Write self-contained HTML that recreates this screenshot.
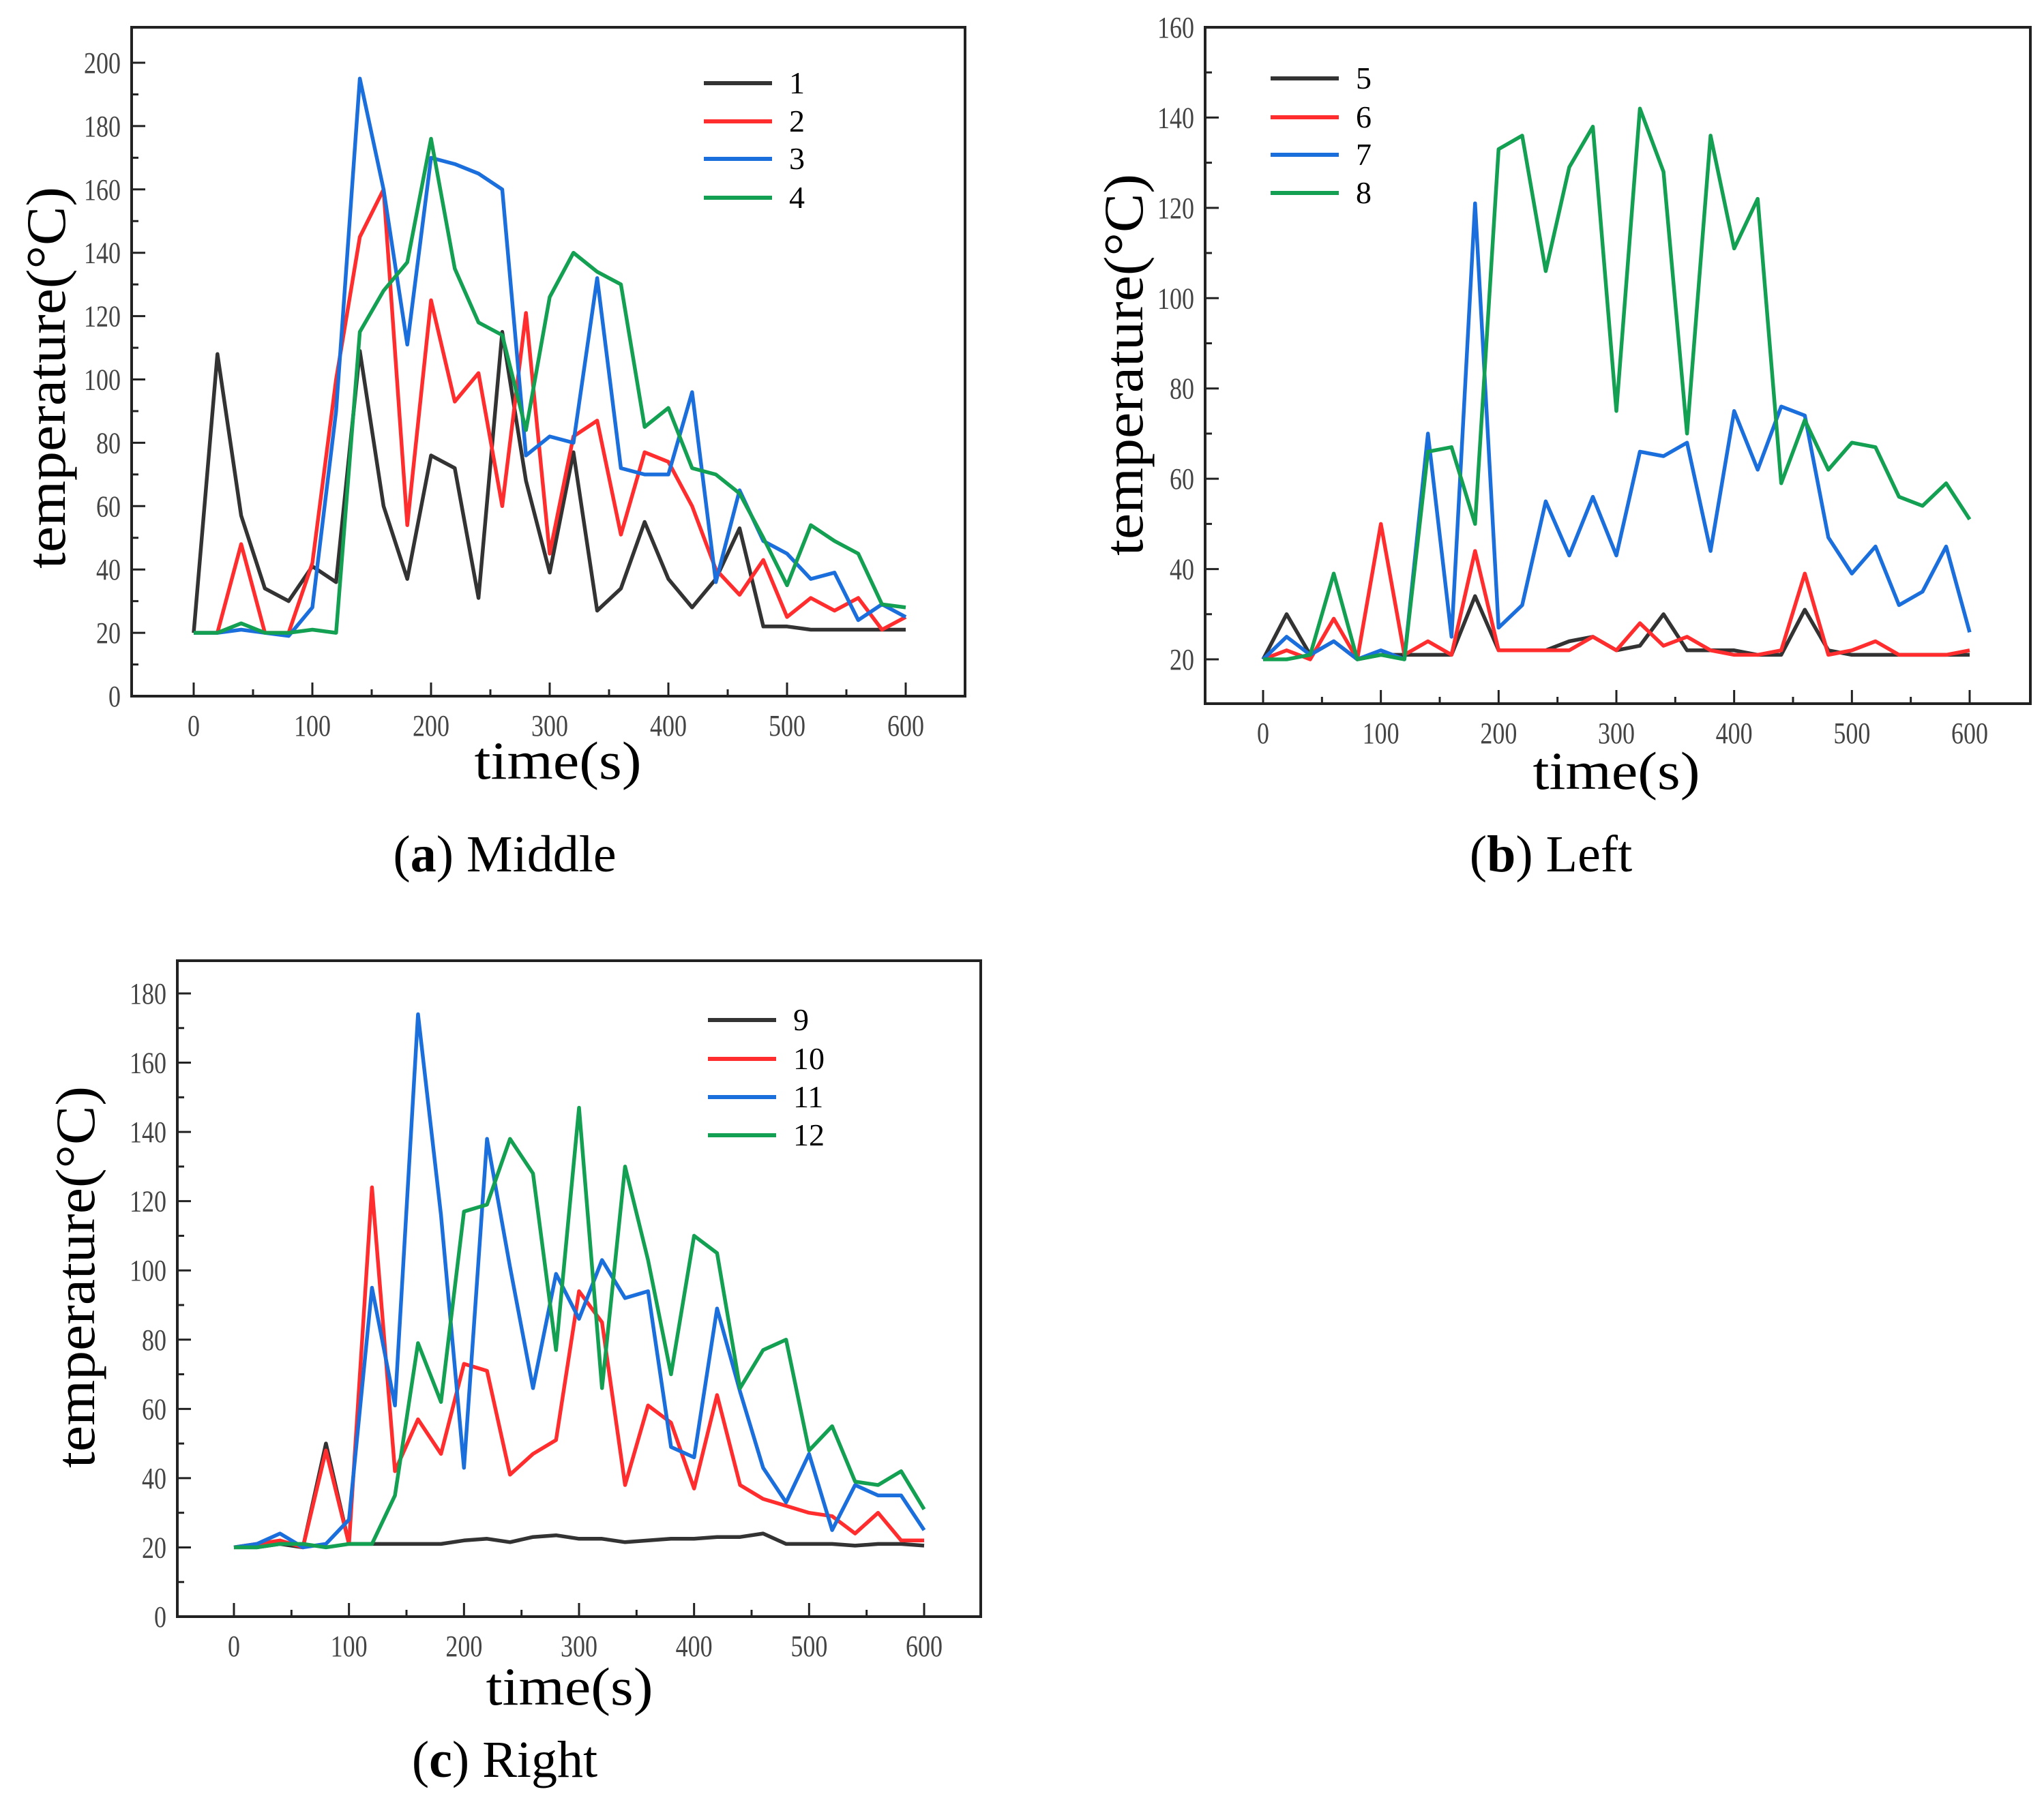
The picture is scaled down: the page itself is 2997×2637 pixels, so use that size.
<!DOCTYPE html>
<html><head><meta charset="utf-8"><style>
html,body{margin:0;padding:0;background:#fff;}
svg{display:block;}
.tick{font-family:"Liberation Serif",serif;font-size:44px;fill:#444;}
.lab{font-family:"Liberation Serif",serif;fill:#000;}
</style></head><body>
<svg id="fig" width="2997" height="2637" viewBox="0 0 2997 2637" xmlns="http://www.w3.org/2000/svg"></svg>
<script>
const xTimes=[0,20,40,60,80,100,120,140,160,180,200,220,240,260,280,300,320,340,360,380,400,420,440,460,480,500,520,540,560,580,600];
const xTickLabels=[0,100,200,300,400,500,600];
// Panel a (Middle)
const aNames=["1","2","3","4"];
const aS1=[20,108,57,34,30,41,36,109,60,37,76,72,31,115,68,39,77,27,34,55,37,28,37,53,22,22,21,21,21,21,21];
const aS2=[20,20,48,20,20,42,100,145,160,54,125,93,102,60,121,45,82,87,51,77,74,60,40,32,43,25,31,27,31,21,25];
const aS3=[20,20,21,20,19,28,90,195,160,111,170,168,165,160,76,82,80,132,72,70,70,96,36,65,49,45,37,39,24,29,25];
const aS4=[20,20,23,20,20,21,20,115,128,137,176,135,118,114,84,126,140,134,130,85,91,72,70,64,50,35,54,49,45,29,28];
const aYTicks=[0,20,40,60,80,100,120,140,160,180,200];
// Panel b (Left)
const bNames=["5","6","7","8"];
const bS5=[20,30,21,24,20,21,21,21,21,34,22,22,22,24,25,22,23,30,22,22,22,21,21,31,22,21,21,21,21,21,21];
const bS6=[20,22,20,29,20,50,21,24,21,44,22,22,22,22,25,22,28,23,25,22,21,21,22,39,21,22,24,21,21,21,22];
const bS7=[20,25,21,24,20,22,20,70,25,121,27,32,55,43,56,43,66,65,68,44,75,62,76,74,47,39,45,32,35,45,26];
const bS8=[20,20,21,39,20,21,20,66,67,50,133,136,106,129,138,75,142,128,70,136,111,122,59,73,62,68,67,56,54,59,51];
const bYTicks=[20,40,60,80,100,120,140,160];
// Panel c (Right)
const cNames=["9","10","11","12"];
const cS9=[20,20,21,20,50,21,21,21,21,21,22,22.5,21.5,23,23.5,22.5,22.5,21.5,22,22.5,22.5,23,23,24,21,21,21,20.5,21,21,20.5];
const cS10=[20,21,22,20,48,21,124,42,57,47,73,71,41,47,51,94,85,38,61,56,37,64,38,34,32,30,29,24,30,22,22];
const cS11=[20,21,24,20,21,28,95,61,174,116,43,138,101,66,99,86,103,92,94,49,46,89,65,43,33,47,25,38,35,35,25];
const cS12=[20,20,21,21,20,21,21,35,79,62,117,119,138,128,77,147,66,130,103,70,110,105,66,77,80,48,55,39,38,42,31];
const cYTicks=[0,20,40,60,80,100,120,140,160,180];

const colors=["#333333","#ff2d2d","#1b6fdc","#13a052"];
const NS="http://www.w3.org/2000/svg";
const svg=document.getElementById('fig');
function mk(tag,attrs,parent){const e=document.createElementNS(NS,tag);for(const k in attrs)e.setAttribute(k,attrs[k]);(parent||svg).appendChild(e);return e;}

function panel(cfg){
  const g=mk('g',{});
  
  
  const xs=v=>cfg.x0+(v-0)/(600)*(cfg.x600-cfg.x0);
  const ys=v=>cfg.yLoPx+(v-cfg.yLo)/(cfg.yHi-cfg.yLo)*(cfg.yHiPx-cfg.yLoPx);
  const frame=mk('rect',{x:cfg.L,y:cfg.T,width:cfg.R-cfg.L,height:cfg.B-cfg.T,fill:'none',stroke:'#222','stroke-width':4},g);
  
  
  for(let v=0;v<=600;v+=50){
    const major=v%100===0;const px=xs(v);
    const t=mk('line',{x1:px,x2:px,y1:cfg.B,y2:cfg.B-(major?20:10),stroke:'#222','stroke-width':3},g);
    
    
  }
  xTickLabels.forEach(v=>{
    const s=String(v);
    const t=mk('text',{x:xs(v),y:cfg.B+58,'text-anchor':'middle',class:'tick',textLength:s.length*18,lengthAdjust:'spacingAndGlyphs'},g);
    t.textContent=s;
    
    
  });
  const step=cfg.yTicks[1]-cfg.yTicks[0];
  for(let v=cfg.yTicks[0];v<=cfg.yTicks[cfg.yTicks.length-1]+0.001;v+=step/2){
    const major=Math.abs((v-cfg.yTicks[0])%step)<0.001;const py=ys(v);
    const t=mk('line',{x1:cfg.L,x2:cfg.L+(major?20:10),y1:py,y2:py,stroke:'#222','stroke-width':3},g);
    
    
  }
  cfg.yTicks.forEach(v=>{
    const s=String(v);
    const t=mk('text',{x:cfg.L-16,y:ys(v)+15,'text-anchor':'end',class:'tick',textLength:s.length*18,lengthAdjust:'spacingAndGlyphs'},g);
    t.textContent=s;
    
    
  });
  cfg.series.forEach((arr,i)=>{
    const d=arr.map((v,k)=>(k?'L':'M')+xs(xTimes[k]).toFixed(1)+' '+ys(v).toFixed(1)).join(' ');
    const p=mk('path',{d:d,fill:'none',stroke:colors[i],'stroke-width':5.5,'stroke-linejoin':'round'},g);
    
    
  });
  cfg.names.forEach((n,i)=>{
    const ly=cfg.legY[i];
    const l=mk('line',{x1:cfg.legX,x2:cfg.legX+100,y1:ly,y2:ly,stroke:colors[i],'stroke-width':6},g);
    
    
    const t=mk('text',{x:cfg.legX+125,y:ly+15,class:'lab','font-size':46,fill:'#444'},g);
    t.textContent=n;
    
    
  });
  const yl=mk('text',{x:0,y:0,class:'lab','font-size':82,'text-anchor':'middle',textLength:560,lengthAdjust:'spacingAndGlyphs',transform:`translate(${cfg.yLab[0]},${cfg.yLab[1]}) rotate(-90)`},g);
  yl.textContent='temperature(°C)';
  
  
  const xl=mk('text',{x:cfg.xLab[0],y:cfg.xLab[1],class:'lab','font-size':78,'text-anchor':'middle',textLength:245,lengthAdjust:'spacingAndGlyphs'},g);
  xl.textContent='time(s)';
  
  
  const cap=mk('text',{x:cfg.cap[0],y:cfg.cap[1],class:'lab','font-size':76,'text-anchor':'middle'},g);
  cap.innerHTML='(<tspan font-weight="bold">'+cfg.capL+'</tspan>) '+cfg.capT;
  
  
}

panel({id:'middle',L:193,R:1415,T:40,B:1021,x0:284,x600:1328,yLo:0,yHi:200,yLoPx:1021,yHiPx:92,yTicks:aYTicks,
  series:[aS1,aS2,aS3,aS4],names:aNames,legX:1032,legY:[122,178,233,290],
  yLab:[95,554],xLab:[818,1142],cap:[740,1278],capL:'a',capT:'Middle'});
panel({id:'left',L:1767,R:2977,T:40,B:1032,x0:1852,x600:2888,yLo:20,yHi:160,yLoPx:967,yHiPx:40,yTicks:bYTicks,
  series:[bS5,bS6,bS7,bS8],names:bNames,legX:1863,legY:[115,172,227,283],
  yLab:[1675,535],xLab:[2370,1157],cap:[2274,1278],capL:'b',capT:'Left'});
panel({id:'right',L:260,R:1438,T:1409,B:2371,x0:343,x600:1355,yLo:0,yHi:180,yLoPx:2371,yHiPx:1457,yTicks:cYTicks,
  series:[cS9,cS10,cS11,cS12],names:cNames,legX:1038,legY:[1496,1553,1609,1665],
  yLab:[138,1873],xLab:[835,2500],cap:[740,2606],capL:'c',capT:'Right'});
</script>
</body></html>
